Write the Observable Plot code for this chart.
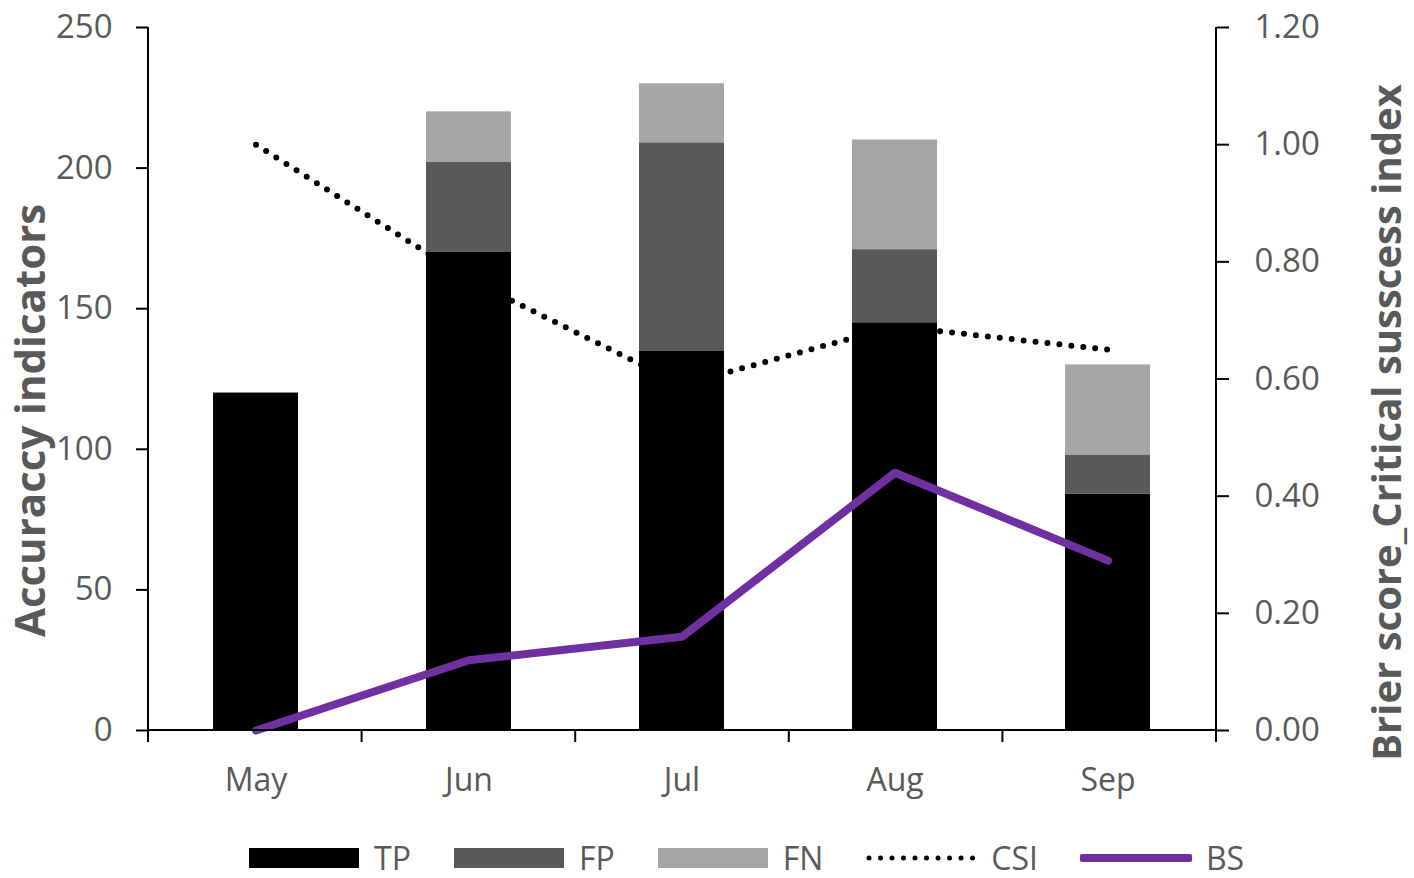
<!DOCTYPE html>
<html>
<head>
<meta charset="utf-8">
<script src="https://cdn.jsdelivr.net/npm/d3@7"></script>
<script src="https://cdn.jsdelivr.net/npm/@observablehq/plot@0.6"></script>
<style>
  html, body { margin: 0; padding: 0; background: #fff; }
  body { width: 1414px; height: 878px; overflow: hidden; font-family: "Open Sans", sans-serif; }
  #legend { display: flex; align-items: center; height: 44px; margin-top: 8px; padding-left: 248px; }
  .item { display: flex; align-items: center; margin-right: 42px; }
  .item span { font-size: 32px; color: #595959; margin-left: 14px; line-height: 1; }
</style>
</head>
<body>
<div id="chart"></div>
<div id="legend"></div>
<script>
const months = ["May", "Jun", "Jul", "Aug", "Sep"];
const tpValues = [120, 170, 135, 145, 84];
const fpValues = [0, 32, 74, 26, 14];
const fnValues = [0, 18, 21, 39, 32];
const csiValues = [1.00, 0.77, 0.59, 0.69, 0.65];
const bsValues = [0.00, 0.12, 0.16, 0.44, 0.29];
const leftTicks = [0, 50, 100, 150, 200, 250];
const rightTicks = [0.00, 0.20, 0.40, 0.60, 0.80, 1.00, 1.20];
const barTypes = ["TP", "FP", "FN"];
const barColors = ["#000000", "#595959", "#a6a6a6"];
const leftMax = 250;
const rightMax = 1.20;
const leftTitle = "Accuraccy indicators";
const rightTitle = "Brier score_Critical susscess index";

const toLeft = v => v * leftMax / rightMax;

const bars = [];
months.forEach((m, i) => {
  bars.push({month: m, type: "TP", value: tpValues[i]});
  bars.push({month: m, type: "FP", value: fpValues[i]});
  bars.push({month: m, type: "FN", value: fnValues[i]});
});
const csiData = months.map((m, i) => ({month: m, v: toLeft(csiValues[i])}));
const bsData = months.map((m, i) => ({month: m, v: toLeft(bsValues[i])}));

function frameMark(index, scales, values, dims) {
  const {width, height, marginLeft, marginRight, marginTop, marginBottom} = dims;
  const root = d3.create("svg:g");
  const g = root.append("g").attr("stroke", "#000").attr("stroke-width", 2).attr("fill", "none");
  const x0 = marginLeft, x1 = width - marginRight, y0 = marginTop, y1 = height - marginBottom;
  g.append("line").attr("x1", x0).attr("x2", x0).attr("y1", y0).attr("y2", y1);
  g.append("line").attr("x1", x1).attr("x2", x1).attr("y1", y0).attr("y2", y1);
  g.append("line").attr("x1", x0).attr("x2", x1).attr("y1", y1).attr("y2", y1);
  const step = (x1 - x0) / months.length;
  for (let i = 0; i <= months.length; i++) {
    const x = x0 + i * step;
    g.append("line").attr("x1", x).attr("x2", x).attr("y1", y1).attr("y2", y1 + 12);
  }
  // axis titles
  const t = root.append("g").attr("fill", "#595959").attr("font-weight", "bold")
    .attr("text-anchor", "middle").attr("dominant-baseline", "central");
  t.append("text").attr("font-size", 42)
    .attr("transform", `translate(${x0 - 120},${(y0 + y1) / 2 + 42}) rotate(-90)`).text(leftTitle);
  t.append("text").attr("font-size", 40)
    .attr("transform", `translate(${x1 + 169},${(y0 + y1) / 2 + 44}) rotate(-90)`).text(rightTitle);
  return root.node();
}

const chart = Plot.plot({
  width: 1414,
  height: 828,
  marginLeft: 148,
  marginRight: 198,
  marginTop: 27,
  marginBottom: 98,
  style: {fontFamily: "'Open Sans', sans-serif", background: "#fff"},
  x: {domain: months, paddingInner: 0.6, paddingOuter: 0.3, label: null},
  y: {domain: [0, leftMax], label: null},
  color: {domain: barTypes, range: barColors},
  marks: [
    Plot.line(csiData, {x: "month", y: "v", stroke: "#000", strokeWidth: 6, strokeDasharray: "0 12", strokeLinecap: "round"}),
    Plot.barY(bars, {x: "month", y: "value", fill: "type", insetLeft: 0, insetRight: 0}),
    Plot.line(bsData, {x: "month", y: "v", stroke: "#7030a0", strokeWidth: 8, strokeLinecap: "round", strokeLinejoin: "round"}),
    frameMark,
    Plot.axisY(leftTicks, {anchor: "left", tickSize: 12, tickPadding: 24, fontSize: 33, fill: "#595959", stroke: "#000", strokeWidth: 2, label: null}),
    Plot.axisY(rightTicks.map(toLeft), {anchor: "right", tickSize: 12, tickPadding: 26, fontSize: 33, fill: "#595959", stroke: "#000", strokeWidth: 2, label: null,
      tickFormat: d => (d * rightMax / leftMax).toFixed(2)}),
    Plot.axisX({tickSize: 0, tickPadding: 38, fontSize: 32, fill: "#595959", label: null})
  ]
});
document.getElementById("chart").appendChild(chart);

// Legend
const legendItems = [
  {label: "TP", kind: "rect", color: barColors[0]},
  {label: "FP", kind: "rect", color: barColors[1]},
  {label: "FN", kind: "rect", color: barColors[2]},
  {label: "CSI", kind: "dot", color: "#000"},
  {label: "BS", kind: "line", color: "#7030a0"}
];
const legend = d3.select("#legend");
for (const it of legendItems) {
  const item = legend.append("div").attr("class", "item");
  const svg = item.append("svg").attr("width", 112).attr("height", 24);
  if (it.kind === "rect") {
    svg.append("rect").attr("x", 1).attr("y", 2).attr("width", 110).attr("height", 20).attr("fill", it.color);
  } else if (it.kind === "dot") {
    svg.append("line").attr("x1", 4).attr("x2", 108).attr("y1", 12).attr("y2", 12)
      .attr("stroke", it.color).attr("stroke-width", 5).attr("stroke-dasharray", "0 11.5").attr("stroke-linecap", "round");
  } else {
    svg.append("line").attr("x1", 3).attr("x2", 109).attr("y1", 12).attr("y2", 12)
      .attr("stroke", it.color).attr("stroke-width", 8).attr("stroke-linecap", "round");
  }
  item.append("span").text(it.label);
}
</script>
</body>
</html>
